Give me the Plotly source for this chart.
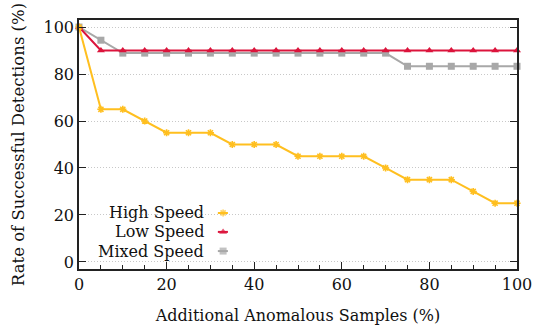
import plotly.graph_objects as go

x_vals = [0, 5, 10, 15, 20, 25, 30, 35, 40, 45, 50, 55, 60, 65, 70, 75, 80, 85, 90, 95, 100]
high_speed = [100, 65, 65, 60, 55, 55, 55, 50, 50, 50, 45, 45, 45, 45, 40, 35, 35, 35, 30, 25, 25]
low_speed = [100, 90, 90, 90, 90, 90, 90, 90, 90, 90, 90, 90, 90, 90, 90, 90, 90, 90, 90, 90, 90]
mixed_speed = [100, 94.4, 88.9, 88.9, 88.9, 88.9, 88.9, 88.9, 88.9, 88.9, 88.9, 88.9, 88.9, 88.9, 88.9,
               83.3, 83.3, 83.3, 83.3, 83.3, 83.3]
series_names = ["High Speed", "Low Speed", "Mixed Speed"]
x_ticks = [0, 20, 40, 60, 80, 100]
y_ticks = [0, 20, 40, 60, 80, 100]

colors = ["#FFBF1F", "#DC143C", "#A8A8A8"]
symbols = ["asterisk-open", "triangle-up", "square"]
sizes = [6, 7, 7]
FONT = "DejaVu Serif, Liberation Serif, serif"
FS = 16

fig = go.Figure()
order = [(2, mixed_speed), (1, low_speed), (0, high_speed)]
for i, ys in order:
    fig.add_trace(go.Scatter(
        x=x_vals, y=ys, mode="lines+markers", name=series_names[i],
        line=dict(color=colors[i], width=2),
        marker=dict(symbol=symbols[i], size=sizes[i], color=colors[i],
                    line=dict(color=colors[i], width=1.6 if i == 0 else 0)),
        showlegend=False, cliponaxis=False))

# manual legend (text left of symbol)
leg_y = [0.225, 0.149, 0.072]
for i in range(3):
    fig.add_trace(go.Scatter(
        x=[0.317, 0.329, 0.340], y=[leg_y[i]] * 3, xaxis="x2", yaxis="y2",
        mode="lines+markers",
        line=dict(color=colors[i], width=2),
        marker=dict(symbol=symbols[i], size=[0, sizes[i], 0], color=colors[i],
                    line=dict(color=colors[i], width=1.6 if i == 0 else 0)),
        showlegend=False, hoverinfo="skip"))
    fig.add_annotation(x=0.291, y=leg_y[i], xref="x2", yref="y2", text=series_names[i],
                       showarrow=False, xanchor="right", yanchor="middle",
                       font=dict(family=FONT, size=FS, color="#111"))

fig.add_shape(type="rect", xref="paper", yref="paper", x0=0.002, x1=0.36, y0=0.044, y1=0.277,
              fillcolor="white", line=dict(width=0), layer="below")

fig.update_layout(
    width=538, height=329,
    margin=dict(l=79, r=21, t=20, b=60, autoexpand=False),
    paper_bgcolor="white", plot_bgcolor="white",
    font=dict(family=FONT, size=FS, color="#111"),
    xaxis=dict(range=[0, 100], tickvals=x_ticks, ticks="inside", ticklen=7, automargin=False,
               tickwidth=1, tickcolor="#222", showline=True, linecolor="#222", linewidth=1.5,
               mirror=True, showgrid=False, zeroline=False,
               minor=dict(dtick=5, ticks="inside", ticklen=4, tickcolor="#222", showgrid=False),
               title=dict(text="Additional Anomalous Samples (%)", font=dict(size=FS), standoff=17),
               tickfont=dict(size=FS)),
    yaxis=dict(range=[-3, 103], tickvals=y_ticks, ticks="inside", ticklen=7, tickwidth=1, automargin=False,
               tickcolor="#222", showline=True, linecolor="#222", linewidth=1.5, mirror="ticks",
               showgrid=True, gridcolor="#c8c8c8", griddash="1px,2px", gridwidth=1, zeroline=False,
               title=dict(text="Rate of Successful Detections (%)", font=dict(size=FS + 0.5), standoff=15),
               tickfont=dict(size=FS)),
    xaxis2=dict(range=[0, 1], overlaying="x", visible=False, fixedrange=True),
    yaxis2=dict(range=[0, 1], overlaying="y", visible=False, fixedrange=True),
)

fig.write_html("out.html")
